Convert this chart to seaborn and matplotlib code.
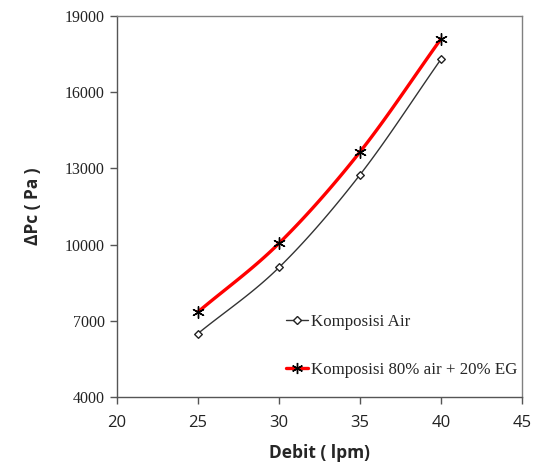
import numpy as np
import pandas as pd
import seaborn as sns
import matplotlib
matplotlib.use("Agg")
import matplotlib.pyplot as plt
from matplotlib.lines import Line2D

debit = [25, 30, 35, 40]
air = [6500, 9100, 12750, 17300]
eg = [7350, 10050, 13650, 18100]
series_names = ["Komposisi Air", "Komposisi 80% air + 20% EG"]
x_ticks = [20, 25, 30, 35, 40, 45]
y_ticks = [4000, 7000, 10000, 13000, 16000, 19000]

sns.set_style("white")


def smooth(xs, ys, n=30):
    # Catmull-Rom style smoothing (like Excel smoothed line)
    xs = np.asarray(xs, float)
    ys = np.asarray(ys, float)
    px = np.concatenate([[2 * xs[0] - xs[1]], xs, [2 * xs[-1] - xs[-2]]])
    py = np.concatenate([[2 * ys[0] - ys[1]], ys, [2 * ys[-1] - ys[-2]]])
    ox, oy = [], []
    t = np.linspace(0, 1, n)
    for i in range(1, len(px) - 2):
        p0, p1, p2, p3 = (np.array([px[j], py[j]]) for j in range(i - 1, i + 3))
        c1 = p1 + (p2 - p0) / 6
        c2 = p2 - (p3 - p1) / 6
        for tt in t:
            b = ((1 - tt) ** 3) * p1 + 3 * ((1 - tt) ** 2) * tt * c1 + 3 * (1 - tt) * tt ** 2 * c2 + tt ** 3 * p2
            ox.append(b[0]); oy.append(b[1])
    return np.array(ox), np.array(oy)


fig = plt.figure(figsize=(5.37, 4.68), dpi=100)
ax = fig.add_axes([117 / 537, 71 / 468, 405 / 537, 381 / 468])

df_air = pd.DataFrame({"x": debit, "y": air})
df_eg = pd.DataFrame({"x": debit, "y": eg})

sx, sy = smooth(debit, air)
sns.lineplot(x=sx, y=sy, ax=ax, color="#333333", linewidth=1.0, sort=False, estimator=None)
sx2, sy2 = smooth(debit, eg)
sns.lineplot(x=sx2, y=sy2, ax=ax, color="#ff0000", linewidth=2.4, sort=False, estimator=None)

sns.scatterplot(data=df_air, x="x", y="y", ax=ax, marker="D", s=15, facecolor="white",
                edgecolor="#222222", linewidth=1.0, zorder=5)
sns.scatterplot(data=df_eg, x="x", y="y", ax=ax, marker=(6, 2, 0), s=70, color="black",
                linewidth=1.0, zorder=6)

ax.set_xlim(20, 45)
ax.set_ylim(4000, 19000)
ax.set_xticks(x_ticks)
ax.set_yticks(y_ticks)
ax.set_xticklabels([str(v) for v in x_ticks], fontfamily="Open Sans", fontsize=12, color="#222222")
ax.set_yticklabels([str(v) for v in y_ticks], fontfamily="Liberation Serif", fontsize=11.5, color="#222222")

for sp in ax.spines.values():
    sp.set_visible(True)
    sp.set_color("#808080")
    sp.set_linewidth(1.0)
ax.spines["left"].set_color("#555555")
ax.spines["bottom"].set_color("#555555")
ax.tick_params(axis="both", direction="out", length=5, width=1.0, color="#555555",
               bottom=True, left=True, pad=4)
ax.tick_params(axis="x", pad=8)

ax.set_xlabel("Debit ( lpm)", fontfamily="Open Sans", fontweight="bold", fontsize=12.5, labelpad=9)
ax.set_ylabel("ΔPc ( Pa )", fontfamily="Open Sans", fontweight="bold", fontsize=12.5, labelpad=16)

handles = [
    Line2D([0], [0], color="#333333", linewidth=1.0, marker="D", markersize=4,
           markerfacecolor="white", markeredgecolor="#222222"),
    Line2D([0], [0], color="#ff0000", linewidth=2.4, marker=(6, 2, 0), markersize=8,
           markeredgecolor="black", markeredgewidth=1.0),
]
leg = ax.legend(handles, series_names, loc="lower left", bbox_to_anchor=(0.38, 0.01),
                frameon=False, handlelength=1.3, handletextpad=0.15, labelspacing=1.9,
                prop={"family": "Liberation Serif", "size": 12.2})

fig.savefig("out.png", dpi=100)
